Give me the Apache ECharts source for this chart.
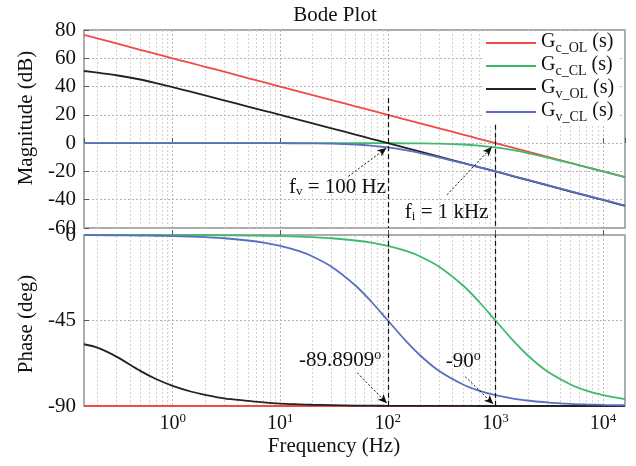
<!DOCTYPE html>
<html><head><meta charset="utf-8">
<script src="https://cdn.jsdelivr.net/npm/echarts@6/dist/echarts.min.js"></script>
<style>html,body{margin:0;padding:0;background:#fff}#c{width:636px;height:466px}</style>
</head><body><div id="c"></div>
<script>
// ---- data ----
const freqHz = [0.15,0.2,0.3,0.5,0.7,1,1.5,2,3,5,7,10,15,20,30,50,70,100,150,200,300,500,700,1000,1500,2000,3000,5000,7000,10000,16000];
const magGcOL = [76.5,74,70.5,66,63.1,60,56.5,54,50.5,46,43.1,40,36.5,34,30.5,26,23.1,20,16.5,14,10.5,6,3.1,0,-3.5,-6,-9.5,-14,-16.9,-20,-24.1];
const magGcCL = [0,0,0,0,0,0,0,0,0,0,0,0,0,0,0,-0.01,-0.02,-0.04,-0.1,-0.17,-0.37,-0.97,-1.74,-3.0,-5.1,-7.0,-10.0,-14.2,-17.0,-20.0,-24.1];
const magGvOL = [51,49.8,48,45,42.5,39.6,36.2,33.8,30.3,25.9,23.0,20.0,16.5,14.0,10.5,6.0,3.1,0,-3.5,-6,-9.5,-14,-16.9,-20,-23.6,-26.1,-29.7,-34.2,-37.1,-40.2,-44.3];
const magGvCL = [0,0,0,0,0,0,0,0,0,0,0,-0.04,-0.1,-0.17,-0.37,-0.97,-1.74,-3.0,-5.1,-7.0,-10.0,-14.2,-17.0,-20.0,-23.5,-26.0,-29.5,-34.0,-36.9,-40.0,-44.1];
const phGcOL = [-90,-90,-90,-90,-90,-90,-90,-90,-90,-90,-90,-90,-90,-90,-90,-90,-90,-90,-90,-90,-90,-90,-90,-90,-90,-90,-90,-90,-90,-90,-90];
const phGcCL = [0,0,0,0,0,-0.06,-0.09,-0.11,-0.17,-0.29,-0.4,-0.57,-0.86,-1.15,-1.7,-2.9,-4.0,-5.7,-8.5,-11.3,-16.7,-26.6,-35.0,-45.0,-56.3,-63.4,-71.6,-78.7,-81.9,-84.3,-86.4];
const phGvOL = [-57.5,-59.3,-64,-71.5,-75.8,-79.4,-82.5,-84.1,-86,-87.3,-88.1,-88.7,-89.1,-89.35,-89.55,-89.75,-89.82,-89.89,-89.93,-89.95,-89.97,-89.98,-89.99,-90,-90,-90,-90,-90,-90,-90,-90];
const phGvCL = [-0.09,-0.11,-0.17,-0.29,-0.4,-0.57,-0.86,-1.15,-1.7,-2.9,-4.0,-5.7,-8.5,-11.3,-16.7,-26.6,-35.0,-45.0,-56.3,-63.4,-71.6,-78.7,-81.9,-84.3,-86.2,-87.1,-88.1,-88.9,-89.2,-89.4,-89.6];
const seriesNames = ['Gc_OL','Gc_CL','Gv_OL','Gv_CL'];
const magTicks = {min:-60, max:80, interval:20};
const phaseTicks = {min:-90, max:0, interval:45};
const markFreqs = [100, 1000];           // f_v and f_i
const phaseNotes = ['-89.8909', '-90'];

// ---- styling ----
const FONT = '"Liberation Serif", "Times New Roman", serif';
const colors = ['#ee4b4b', '#3dbb6a', '#222222', '#5a6fc0'];
const magSets = [magGcOL, magGcCL, magGvOL, magGvCL];
const phSets = [phGcOL, phGcCL, phGvOL, phGvCL];
const pairs = arr => freqHz.map((f, i) => [f, arr[i]]);
const fMin = 0.15, fMax = 16000;

// minor log gridlines (2..9 per decade)
const minorGrid = [];
[0.1, 1, 10, 100, 1000, 10000].forEach(d => {
  for (let k = 2; k <= 9; k++) { const v = k * d; if (v > fMin && v < fMax) minorGrid.push({xAxis: v}); }
});
const gridStyle = {color: '#d2d2d2', type: [2, 2], width: 1};
const majorStyle = {color: '#b4b4b4', type: [2, 2], width: 1};

const series = [];
// gridline helpers
[0, 1].forEach(g => {
  series.push({
    type: 'line', xAxisIndex: g, yAxisIndex: g, data: [], silent: true,
    markLine: {z: 1, silent: true, symbol: ['none', 'none'], label: {show: false}, lineStyle: gridStyle, animation: false, data: minorGrid}
  });
});
seriesNames.forEach((n, i) => {
  series.push({name: n, type: 'line', xAxisIndex: 0, yAxisIndex: 0, data: pairs(magSets[i]), symbol: 'none', smooth: 0.3,
    lineStyle: {color: colors[i], width: 1.8}, itemStyle: {color: colors[i]}, z: 2});
});
seriesNames.forEach((n, i) => {
  series.push({name: n, type: 'line', xAxisIndex: 1, yAxisIndex: 1, data: pairs(phSets[i]), symbol: 'none', smooth: 0.3,
    lineStyle: {color: colors[i], width: 1.8}, itemStyle: {color: colors[i]}, z: 2});
});

const dashBlack = {color: '#111', type: [5, 3], width: 1.2};
const arrowStyle = {color: '#111', type: [2, 2], width: 1};
const txtRich = {
  t: {fontFamily: FONT, fontSize: 21, color: '#111', lineHeight: 22},
  s: {fontFamily: FONT, fontSize: 13, color: '#111', lineHeight: 13, padding: [9, 0, 0, 0]},
  u: {fontFamily: FONT, fontSize: 14, color: '#111', lineHeight: 14, padding: [0, 0, 10, 0]}
};
// annotations: magnitude panel
series.push({
  type: 'line', xAxisIndex: 0, yAxisIndex: 0, data: [], silent: true,
  markLine: {silent: true, symbol: ['none', 'none'], label: {show: false}, animation: false, lineStyle: dashBlack,
    data: [
      [{coord: [markFreqs[0], 32]}, {coord: [markFreqs[0], -60]}],
      [{coord: [markFreqs[1], 13]}, {coord: [markFreqs[1], -60]}]
    ]},
  markPoint: {silent: true, symbol: 'circle', symbolSize: 1, itemStyle: {color: 'rgba(0,0,0,0)'}, animation: false,
    label: {show: true, position: 'inside', rich: txtRich},
    data: [
      {coord: [34, -31], label: {formatter: '{t|f}{s|v}{t| = ' + markFreqs[0] + ' Hz}'}},
      {coord: [352, -49], label: {formatter: '{t|f}{s|i}{t| = 1 kHz}'}}
    ]}
});
series.push({
  type: 'line', xAxisIndex: 0, yAxisIndex: 0, data: [], silent: true,
  markLine: {silent: true, symbol: ['none', 'arrow'], symbolSize: [6, 9], label: {show: false}, animation: false, lineStyle: arrowStyle,
    itemStyle: {color: '#111'},
    data: [
      [{coord: [43, -23.5]}, {coord: [97, -3.4]}],
      [{coord: [355, -36.5]}, {coord: [925, -2.8]}]
    ]}
});
// annotations: phase panel
series.push({
  type: 'line', xAxisIndex: 1, yAxisIndex: 1, data: [], silent: true,
  markLine: {silent: true, symbol: ['none', 'none'], label: {show: false}, animation: false, lineStyle: dashBlack,
    data: [{xAxis: markFreqs[0]}, {xAxis: markFreqs[1]}]},
  markPoint: {silent: true, symbol: 'circle', symbolSize: 1, itemStyle: {color: 'rgba(0,0,0,0)'}, animation: false,
    label: {show: true, position: 'inside', rich: txtRich},
    data: [
      {coord: [36, -66], label: {formatter: '{t|' + phaseNotes[0] + '}{u|o}'}},
      {coord: [503, -66.5], label: {formatter: '{t|' + phaseNotes[1] + '}{u|o}'}}
    ]}
});
series.push({
  type: 'line', xAxisIndex: 1, yAxisIndex: 1, data: [], silent: true,
  markLine: {silent: true, symbol: ['none', 'arrow'], symbolSize: [6, 9], label: {show: false}, animation: false, lineStyle: arrowStyle,
    itemStyle: {color: '#111'},
    data: [
      [{coord: [52, -72.5]}, {coord: [98, -88.6]}],
      [{coord: [525, -74.6]}, {coord: [955, -89]}]
    ]}
});

const xCommon = {
  type: 'log', logBase: 10, min: fMin, max: fMax,
  axisLine: {show: false},
  axisTick: {show: true, inside: true, length: 5, lineStyle: {color: '#555'}},
  splitLine: {show: true, lineStyle: majorStyle},
  minorTick: {show: false}, minorSplitLine: {show: false}
};
const yLabel = {fontFamily: FONT, fontSize: 21, color: '#111', margin: 8};

const option = {
  animation: false,
  backgroundColor: '#fff',
  grid: [
    {left: 84, right: 11, top: 30, height: 198, show: true, borderColor: '#8f8f8f', borderWidth: 1.5, backgroundColor: 'rgba(0,0,0,0)'},
    {left: 84, right: 11, top: 235, height: 171, show: true, borderColor: '#8f8f8f', borderWidth: 1.5, backgroundColor: 'rgba(0,0,0,0)'}
  ],
  xAxis: [
    Object.assign({}, xCommon, {gridIndex: 0, axisLabel: {show: false}}),
    Object.assign({}, xCommon, {gridIndex: 1,
      axisLabel: {show: true, showMinLabel: false, showMaxLabel: false, margin: 8,
        formatter: v => '{b|10}{s|' + Math.round(Math.log10(v)) + '}',
        rich: {
          b: {fontFamily: FONT, fontSize: 20, color: '#111', lineHeight: 20},
          s: {fontFamily: FONT, fontSize: 13, color: '#111', lineHeight: 13, padding: [0, 0, 10, 0]}
        }}})
  ],
  yAxis: [
    {type: 'value', gridIndex: 0, min: magTicks.min, max: magTicks.max, interval: magTicks.interval,
      axisLine: {show: false}, axisTick: {show: true, inside: true, length: 5, lineStyle: {color: '#555'}},
      axisLabel: yLabel, splitLine: {show: true, lineStyle: majorStyle}},
    {type: 'value', gridIndex: 1, min: phaseTicks.min, max: phaseTicks.max, interval: phaseTicks.interval,
      axisLine: {show: false}, axisTick: {show: true, inside: true, length: 5, lineStyle: {color: '#555'}},
      axisLabel: yLabel, splitLine: {show: true, lineStyle: majorStyle}}
  ],
  legend: {
    data: seriesNames, orient: 'vertical', left: 482, top: 31, itemGap: -1,
    itemWidth: 50, itemHeight: 14, padding: [0, 4, 2, 4], backgroundColor: '#fff',
    icon: 'path://M0,6L50,6L50,8L0,8Z',
    formatter: n => '{g|G}{sub|' + n.slice(1) + '}{p| (s)}',
    textStyle: {
      rich: {
        g: {fontFamily: FONT, fontSize: 20, color: '#111', lineHeight: 20, padding: [1, 0, 3, 0]},
        sub: {fontFamily: FONT, fontSize: 14, color: '#111', lineHeight: 14, padding: [10, 0, 0, 0]},
        p: {fontFamily: FONT, fontSize: 20, color: '#111', lineHeight: 20, padding: [1, 0, 3, 0]}
      }
    }
  },
  graphic: [
    {type: 'text', x: 335, y: 15, style: {text: 'Bode Plot', font: '21px ' + FONT, fill: '#111', align: 'center', verticalAlign: 'middle'}},
    {type: 'text', x: 26, y: 118, rotation: Math.PI / 2, style: {text: 'Magnitude (dB)', font: '21px ' + FONT, fill: '#111', align: 'center', verticalAlign: 'middle'}},
    {type: 'text', x: 26, y: 324, rotation: Math.PI / 2, style: {text: 'Phase (deg)', font: '21px ' + FONT, fill: '#111', align: 'center', verticalAlign: 'middle'}},
    {type: 'text', x: 334, y: 446, style: {text: 'Frequency (Hz)', font: '21px ' + FONT, fill: '#111', align: 'center', verticalAlign: 'middle'}}
  ],
  series: series
};
const chart = echarts.init(document.getElementById('c'), null, {renderer: 'canvas'});
chart.setOption(option);
</script>
</body></html>
